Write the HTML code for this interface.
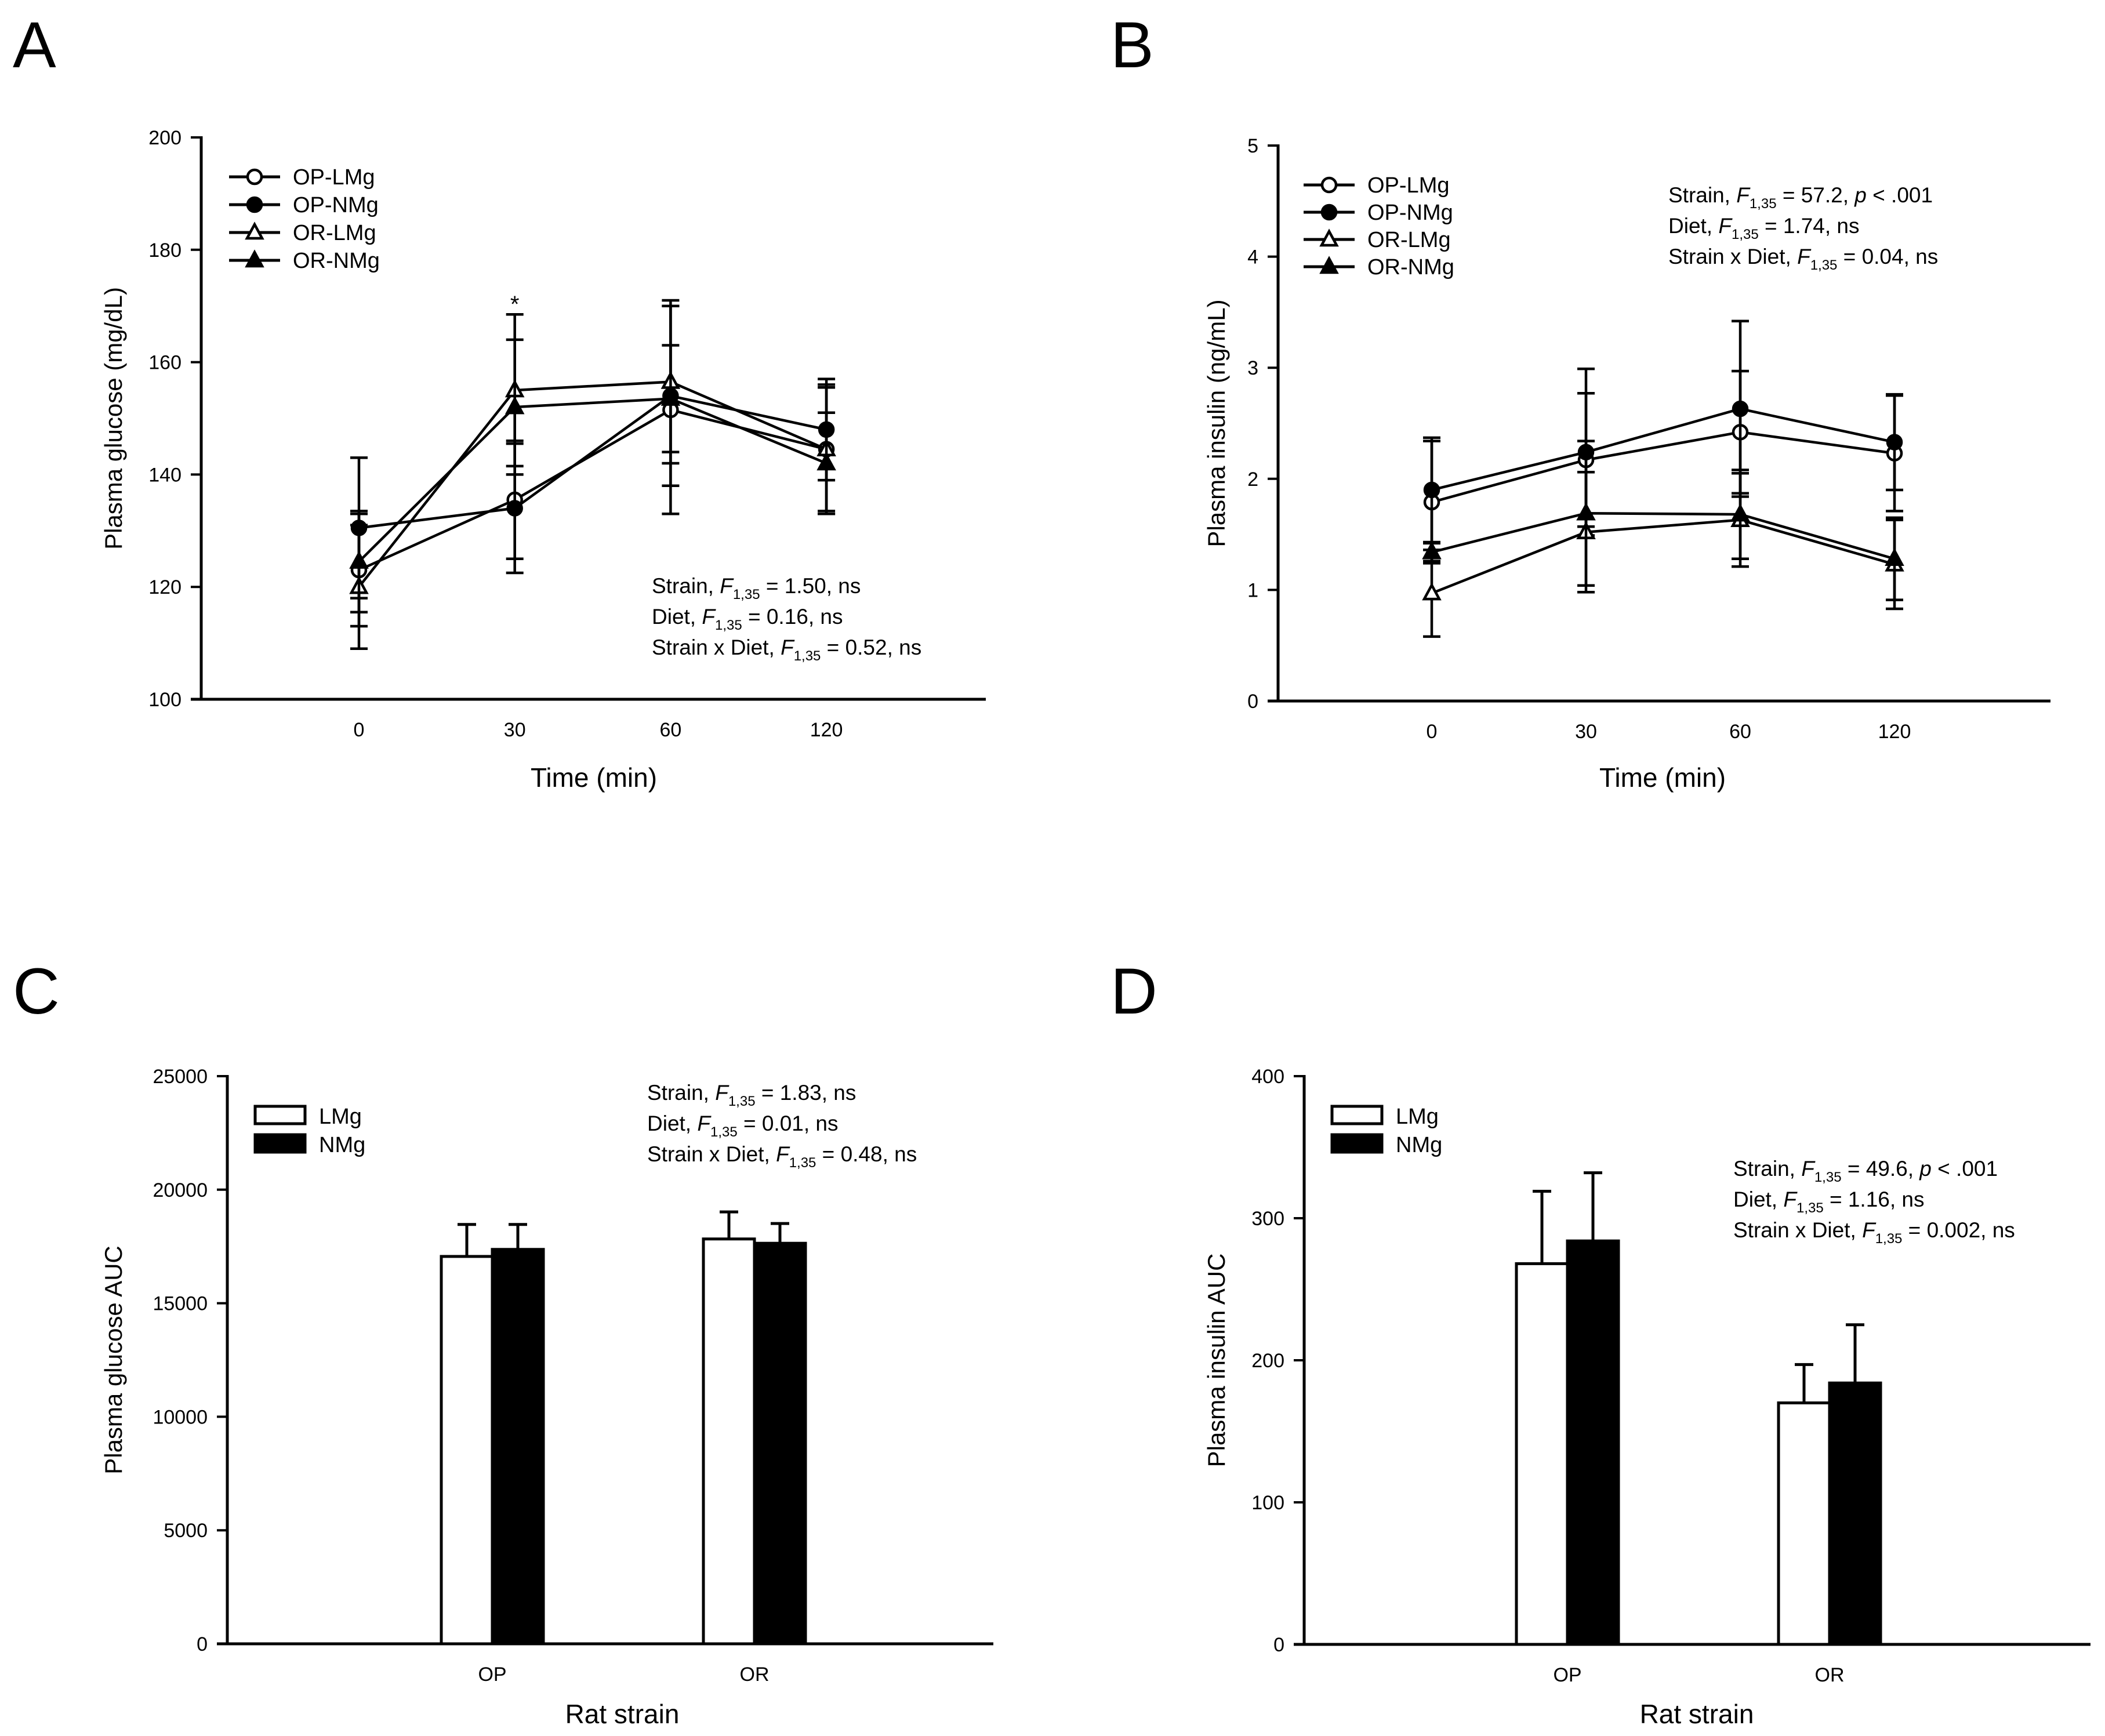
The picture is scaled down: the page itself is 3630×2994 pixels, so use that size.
<!DOCTYPE html>
<html><head><meta charset="utf-8"><style>
html,body{margin:0;padding:0;background:#fff}
svg{display:block}
text{font-family:"Liberation Sans",Arial,sans-serif;fill:#000}
</style></head><body>
<svg id="fig" width="3630" height="2994" viewBox="0 0 3630 2994" xmlns="http://www.w3.org/2000/svg">
<rect width="3630" height="2994" fill="#fff"/>
</svg>
<script>
// ---------- Data ----------
const timeLabels = ["0","30","60","120"];
const seriesNames = ["OP-LMg","OP-NMg","OR-LMg","OR-NMg"];
// Panel A glucose
const glucoseOPL = [123,135.5,151.5,144.5];
const glucoseOPN = [130.5,134,154,148];
const glucoseORL = [120,155,156.5,144.5];
const glucoseORN = [124.5,152,153.5,142];
const glucoseErrOPL = [10,10.5,18.5,11];
const glucoseErrOPN = [12.5,11.5,16,9];
const glucoseErrORL = [11,13.5,14.5,11.5];
const glucoseErrORN = [9,12,9.5,9];
const glucoseTicks = [100,120,140,160,180,200];
// Panel B insulin
const insulinOPL = [1.79,2.17,2.42,2.23];
const insulinOPN = [1.9,2.24,2.63,2.33];
const insulinORL = [0.97,1.52,1.63,1.23];
const insulinORN = [1.34,1.69,1.68,1.28];
const insulinErrOPL = [0.55,0.6,0.55,0.52];
const insulinErrOPN = [0.47,0.75,0.79,0.43];
const insulinErrORL = [0.39,0.54,0.42,0.4];
const insulinErrORN = [0.08,0.65,0.4,0.37];
const insulinTicks = [0,1,2,3,4,5];
// Panel C / D AUC
const strains = ["OP","OR"];
const glucoseAucL = [17060,17830];
const glucoseAucN = [17370,17640];
const glucoseAucErrL = [1410,1190];
const glucoseAucErrN = [1100,870];
const glucoseAucTicks = [0,5000,10000,15000,20000,25000];
const insulinAucL = [268,170];
const insulinAucN = [284,184];
const insulinAucErrL = [51,27];
const insulinAucErrN = [48,41];
const insulinAucTicks = [0,100,200,300,400];

const NS="http://www.w3.org/2000/svg";
const svg=document.getElementById('fig');
function mk(tag,attrs,parent){const e=document.createElementNS(NS,tag);for(const k in attrs)e.setAttribute(k,attrs[k]);(parent||svg).appendChild(e);return e;}

function axes(g,cfg){
  const ax=mk('g',{},g);
  
  
  const yl=mk('line',{x1:cfg.x0,y1:cfg.yTop-2,x2:cfg.x0,y2:cfg.y0+2,stroke:'#000','stroke-width':5},ax);
  
  
  const xl=mk('line',{x1:cfg.x0-18,y1:cfg.y0,x2:cfg.xEnd,y2:cfg.y0,stroke:'#000','stroke-width':5},ax);
  
  
  cfg.ticks.forEach(v=>{
    const y=cfg.ys(v);
    mk('line',{x1:cfg.x0-18,y1:y,x2:cfg.x0,y2:y,stroke:'#000','stroke-width':4},ax);
    const t=mk('text',{x:cfg.x0-34,y:y+12,'font-size':34,'text-anchor':'end'},ax);
    t.textContent=v;
    
    
  });
  cfg.xTicks.forEach((lab,i)=>{
    const x=cfg.xs(i);
    const t=mk('text',{x:x,y:cfg.y0+64,'font-size':34,'text-anchor':'middle'},ax);
    t.textContent=lab;
    
    
  });
  const xt=mk('text',{x:cfg.xTitleX,y:cfg.xTitleY,'font-size':46,'text-anchor':'middle'},g);
  xt.textContent=cfg.xTitle;
  
  
  const yc=(cfg.yTop+cfg.y0)/2;
  const yt=mk('text',{x:cfg.yTitleX,y:yc,'font-size':42,'text-anchor':'middle',transform:`rotate(-90 ${cfg.yTitleX} ${yc})`},g);
  yt.textContent=cfg.yTitle;
  
  
}

function stats(g,x,y,lines){
  const grp=mk('g',{},g);
  
  
  lines.forEach((ln,i)=>{
    const t=mk('text',{x:x,y:y+i*53,'font-size':37},grp);
    const a=mk('tspan',{},t);a.textContent=ln[0]+', ';
    const f=mk('tspan',{'font-style':'italic'},t);f.textContent='F';
    const s=mk('tspan',{'font-size':24,dy:10},t);s.textContent='1,35';
    const b=mk('tspan',{dy:-10},t);b.textContent=' = '+ln[1];
    if(ln[2]){const p=mk('tspan',{'font-style':'italic'},t);p.textContent='p';const q=mk('tspan',{},t);q.textContent=' < .001';}
  });
}

function marker(g,type,x,y){
  const filled=type%2===1, tri=type>=2;
  let m;
  if(!tri) m=mk('circle',{cx:x,cy:y,r:12,fill:filled?'#000':'#fff',stroke:'#000','stroke-width':4.5},g);
  else m=mk('polygon',{points:`${x},${y-14} ${x+13},${y+10} ${x-13},${y+10}`,fill:filled?'#000':'#fff',stroke:'#000','stroke-width':4.5},g);
  return m;
}

function letter(x,y,ch){
  const t=mk('text',{x:x,y:y,'font-size':112});
  t.textContent=ch;
  
  
}

function lineChart(id,cfg,series,errs,legend,statLines,statPos,extra){
  const g=mk('g',{});
  
  
  axes(g,cfg);
  series.forEach((s,k)=>{
    const sg=mk('g',{},g);
    
    
    s.forEach((v,i)=>{
      const x=cfg.xs(i),e=errs[k][i];
      const yh=cfg.ys(v+e),yl=cfg.ys(v-e);
      mk('line',{x1:x,y1:yh,x2:x,y2:yl,stroke:'#000','stroke-width':4.5},sg);
      mk('line',{x1:x-15,y1:yh,x2:x+15,y2:yh,stroke:'#000','stroke-width':4.5},sg);
      mk('line',{x1:x-15,y1:yl,x2:x+15,y2:yl,stroke:'#000','stroke-width':4.5},sg);
    });
    const pts=s.map((v,i)=>cfg.xs(i)+','+cfg.ys(v)).join(' ');
    const pl=mk('polyline',{points:pts,fill:'none',stroke:'#000','stroke-width':4.5},sg);
    
    
    s.forEach((v,i)=>{
      const m=marker(sg,k,cfg.xs(i),cfg.ys(v));
      
      
    });
  });
  const lg=mk('g',{},g);
  
  
  seriesNames.forEach((n,k)=>{
    const y=legend.y+k*legend.dy;
    const eg=mk('g',{},lg);
    
    
    mk('line',{x1:legend.x,y1:y,x2:legend.x+88,y2:y,stroke:'#000','stroke-width':5},eg);
    marker(eg,k,legend.x+44,y);
    const t=mk('text',{x:legend.x+110,y:y+13,'font-size':38},eg);
    t.textContent=n;
  });
  stats(g,statPos[0],statPos[1],statLines);
  if(extra) extra(g);
}

function barChart(id,cfg,vL,vN,eL,eN,legend,statLines,statPos){
  const g=mk('g',{});
  
  
  axes(g,cfg);
  const bw=88;
  [vL,vN].forEach((vals,k)=>{
    const errs=k===0?eL:eN;
    vals.forEach((v,i)=>{
      const cx=cfg.xs(i)+(k===0?-bw/2:bw/2);
      const y=cfg.ys(v), ye=cfg.ys(v+errs[i]);
      const eb=mk('line',{x1:cx,y1:ye,x2:cx,y2:y,stroke:'#000','stroke-width':5},g);
      
      
      mk('line',{x1:cx-16,y1:ye,x2:cx+16,y2:ye,stroke:'#000','stroke-width':5},g);
      const r=mk('rect',{x:cx-bw/2,y:y,width:bw,height:cfg.y0-y,fill:k===0?'#fff':'#000',stroke:'#000','stroke-width':5},g);
      
      
    });
  });
  const lg=mk('g',{},g);
  
  
  ['LMg','NMg'].forEach((n,k)=>{
    const y=legend.y+k*49;
    const eg=mk('g',{},lg);
    
    
    mk('rect',{x:legend.x,y:y,width:86,height:30,fill:k?'#000':'#fff',stroke:'#000','stroke-width':5},eg);
    const t=mk('text',{x:legend.x+110,y:y+30,'font-size':38},eg);
    t.textContent=n;
  });
  stats(g,statPos[0],statPos[1],statLines);
}

function lin(d0,d1,r0,r1){return v=>r0+(v-d0)*(r1-r0)/(d1-d0);}

// Panel A
{
  const cfg={x0:347,y0:1206,yTop:237,xEnd:1700,ticks:glucoseTicks,ys:lin(100,200,1206,237),
    xTicks:timeLabels,xs:i=>619+i*268.7,xTitle:'Time (min)',xTitleX:1024,xTitleY:1357,
    yTitle:'Plasma glucose (mg/dL)',yTitleX:210};
  lineChart('panel-a-glucose-chart',cfg,[glucoseOPL,glucoseOPN,glucoseORL,glucoseORN],
    [glucoseErrOPL,glucoseErrOPN,glucoseErrORL,glucoseErrORN],{x:395,y:305,dy:48},
    [['Strain','1.50, ns'],['Diet','0.16, ns'],['Strain x Diet','0.52, ns']],[1124,1023],
    g=>{const t=mk('text',{x:cfg.xs(1),y:538,'font-size':40,'text-anchor':'middle'},g);t.textContent='*';
      
      });
}
// Panel B
{
  const cfg={x0:2204,y0:1209,yTop:251,xEnd:3536,ticks:insulinTicks,ys:lin(0,5,1209,251),
    xTicks:timeLabels,xs:i=>2469+i*266,xTitle:'Time (min)',xTitleX:2867,xTitleY:1357,
    yTitle:'Plasma insulin (ng/mL)',yTitleX:2112};
  lineChart('panel-b-insulin-chart',cfg,[insulinOPL,insulinOPN,insulinORL,insulinORN],
    [insulinErrOPL,insulinErrOPN,insulinErrORL,insulinErrORN],{x:2248,y:319,dy:47},
    [['Strain','57.2, ',true],['Diet','1.74, ns'],['Strain x Diet','0.04, ns']],[2877,349]);
}
// Panel C
{
  const cfg={x0:392,y0:2835,yTop:1856,xEnd:1713,ticks:glucoseAucTicks,ys:lin(0,25000,2835,1856),
    xTicks:strains,xs:i=>849+i*452,xTitle:'Rat strain',xTitleX:1073,xTitleY:2972,
    yTitle:'Plasma glucose AUC',yTitleX:210};
  barChart('panel-c-glucose-auc-chart',cfg,glucoseAucL,glucoseAucN,glucoseAucErrL,glucoseAucErrN,{x:440,y:1908},
    [['Strain','1.83, ns'],['Diet','0.01, ns'],['Strain x Diet','0.48, ns']],[1116,1897]);
}
// Panel D
{
  const cfg={x0:2249,y0:2836,yTop:1856,xEnd:3605,ticks:insulinAucTicks,ys:lin(0,400,2836,1856),
    xTicks:strains,xs:i=>2703+i*452,xTitle:'Rat strain',xTitleX:2926,xTitleY:2972,
    yTitle:'Plasma insulin AUC',yTitleX:2112};
  barChart('panel-d-insulin-auc-chart',cfg,insulinAucL,insulinAucN,insulinAucErrL,insulinAucErrN,{x:2297,y:1908},
    [['Strain','49.6, ',true],['Diet','1.16, ns'],['Strain x Diet','0.002, ns']],[2989,2028]);
}
letter(22,116,'A');letter(1915,116,'B');letter(22,1748,'C');letter(1915,1748,'D');
</script>
</body></html>
